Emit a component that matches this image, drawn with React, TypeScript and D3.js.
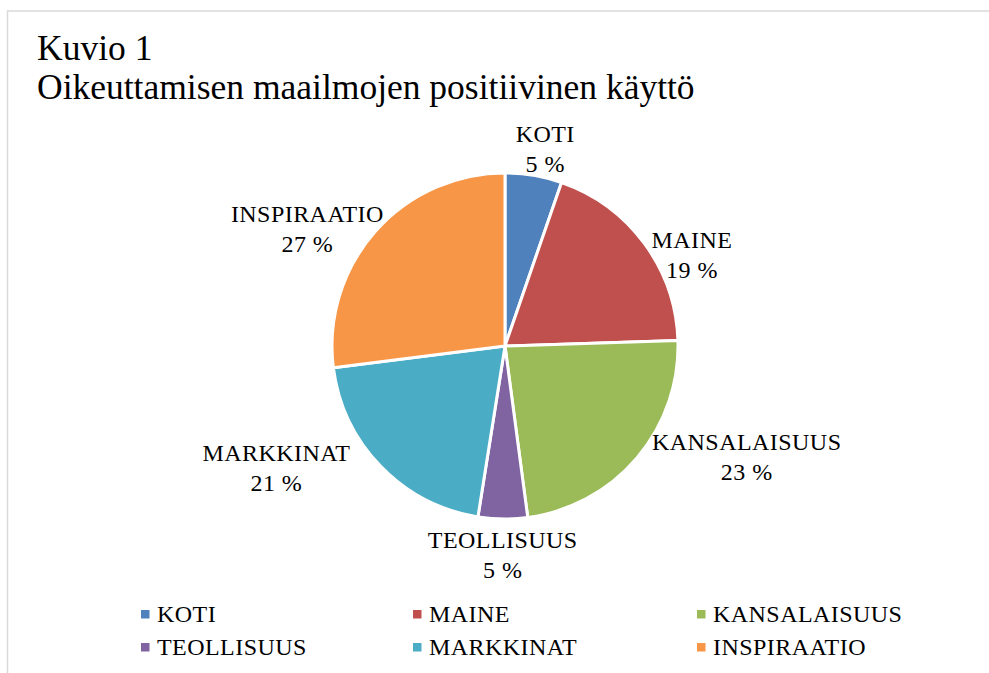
import React from 'react';
import * as d3 from 'd3';

const categories = ['KOTI', 'MAINE', 'KANSALAISUUS', 'TEOLLISUUS', 'MARKKINAT', 'INSPIRAATIO'];
const values = [5.3, 19.2, 23.4, 4.6, 20.5, 27.0];
const colors = ['#4F81BD', '#C0504D', '#9BBB59', '#8064A2', '#4BACC6', '#F79646'];
const titleLines = ['Kuvio 1', 'Oikeuttamisen maailmojen positiivinen käyttö'];

// layout tuning (Excel "best fit" label placement adjustments)
const labelNudge: [number, number][] = [[5, 6], [7, 31], [30, -22], [1, 3], [-44, -21], [-3, 19]];
const legendColX = [141, 413, 697];
const legendRowY = [622, 655];

const W = 989;
const H = 673;
const CX = 505;
const CY = 346;
const R = 173;
const FONT = "'Liberation Serif', 'Times New Roman', serif";
const LABEL_SIZE = 24;
const LABEL_SPACING = 0.45;

function measure(text: string, size: number): number {
  const c = document.createElement('canvas').getContext('2d');
  if (!c) return text.length * size * 0.6;
  c.font = `${size}px ${FONT}`;
  return c.measureText(text).width + text.length * LABEL_SPACING;
}

export default function App() {
  const total = d3.sum(values);
  const pie = d3.pie<number>().sort(null).value((d) => d).startAngle(0).endAngle(2 * Math.PI);
  const arcs = pie(values);
  const arc = d3.arc<d3.PieArcDatum<number>>().innerRadius(0).outerRadius(R);

  const labelH = 46;
  const labels = arcs.map((a, i) => {
    const phi = (a.startAngle + a.endAngle) / 2;
    const s = Math.sin(phi);
    const c = Math.cos(phi);
    const w = measure(categories[i], LABEL_SIZE);
    const rr = R + 10;
    const x = CX + rr * s + (w / 2) * s + labelNudge[i][0];
    const y = CY - rr * c - (labelH / 2) * c + labelNudge[i][1];
    return { x, y, name: categories[i], pct: `${Math.round((values[i] / total) * 100)} %` };
  });

  return (
    <svg
      width={W}
      height={H}
      style={{ position: 'absolute', left: 0, top: 0, display: 'block', background: '#fff' }}
      fontFamily={FONT}
    >
      <rect x={7.5} y={11} width={1000} height={700} fill="#fff" stroke="#d9d9d9" strokeWidth={1.5} />
      <text x={37} y={60} fontSize={35.5} fill="#000">{titleLines[0]}</text>
      <text x={37} y={99} fontSize={35.5} fill="#000">{titleLines[1]}</text>
      <g transform={`translate(${CX},${CY})`}>
        {arcs.map((a, i) => (
          <path key={i} d={arc(a) || ''} fill={colors[i]} stroke="#fff" strokeWidth={3} strokeLinejoin="round" />
        ))}
      </g>
      {labels.map((l, i) => (
        <g key={i} fontSize={LABEL_SIZE} letterSpacing={LABEL_SPACING} fill="#000" textAnchor="middle">
          <text x={l.x} y={l.y - 7}>{l.name}</text>
          <text x={l.x} y={l.y + 23}>{l.pct}</text>
        </g>
      ))}
      {categories.map((name, i) => {
        const col = i % 3;
        const row = Math.floor(i / 3);
        const x = legendColX[col];
        const y = legendRowY[row];
        return (
          <g key={name}>
            <rect x={x} y={y - 12} width={8.5} height={8.5} fill={colors[i]} />
            <text x={x + 16} y={y} fontSize={LABEL_SIZE} letterSpacing={LABEL_SPACING} fill="#000">{name}</text>
          </g>
        );
      })}
    </svg>
  );
}
